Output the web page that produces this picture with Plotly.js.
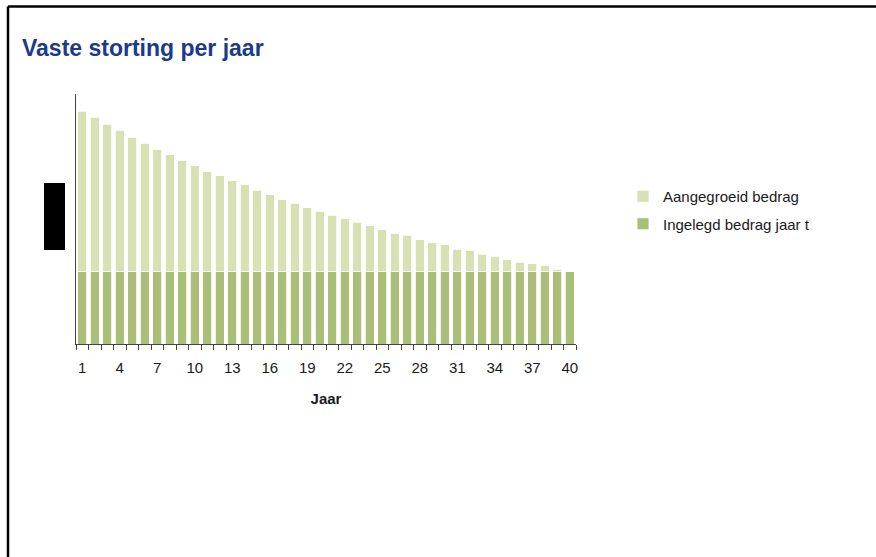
<!DOCTYPE html>
<html>
<head>
<meta charset="utf-8">
<script src="https://cdn.plot.ly/plotly-3.0.1.min.js"></script>
<style>
  body { margin: 0; background: #fff; }
  #chart { width: 876px; height: 557px; }
</style>
</head>
<body>
<div id="chart"></div>
<script>
// Years 1..40
const jaren = ["1","2","3","4","5","6","7","8","9","10","11","12","13","14","15","16","17","18","19","20",
               "21","22","23","24","25","26","27","28","29","30","31","32","33","34","35","36","37","38","39","40"];

// Deposit per year (constant), relative units
const ingelegd = [100,100,100,100,100,100,100,100,100,100,100,100,100,100,100,100,100,100,100,100,
                  100,100,100,100,100,100,100,100,100,100,100,100,100,100,100,100,100,100,100,100];

// Accrued growth on top of the deposit
const aangegroeid = [221,213,203,195,185,177,169,161,153,146,138,132,125,120,112,106,99,94,88,83,
                     78,73,68,63,58,53,50,44,40,37,31,29,24,21,16,13,11,8,3,0];

// Only every third year gets a label
const jaarLabels = jaren.map((j, i) => (i % 3 === 0 ? j : ""));

const font = "Liberation Sans, Arial, sans-serif";

const traceIngelegd = {
    x: jaren,
    y: ingelegd,
    type: "bar",
    name: "Ingelegd bedrag jaar t",
    legendgroup: "b",
    legendrank: 2,
    marker: {color: "#abbe78", line: {color: "#ffffff", width: 0.8}},
    hoverinfo: "skip"
};

const traceAangegroeid = {
    x: jaren,
    y: aangegroeid,
    type: "bar",
    name: "Aangegroeid bedrag",
    legendgroup: "a",
    legendrank: 1,
    marker: {color: "#d7e1b4", line: {color: "#ffffff", width: 0.8}},
    hoverinfo: "skip"
};

const layout = {
    width: 876,
    height: 557,
    margin: {l: 76, r: 300, t: 94, b: 213},
    paper_bgcolor: "#ffffff",
    plot_bgcolor: "#ffffff",
    barmode: "stack",
    bargap: 0.3,
    font: {family: font, size: 14, color: "#1a1a1a"},
    title: {
        text: "<b>Vaste storting per jaar</b>",
        font: {family: font, size: 23, color: "#1b3a8a"},
        x: 22 / 876, xref: "container", xanchor: "left",
        y: 1 - 48 / 557, yref: "container", yanchor: "middle"
    },
    xaxis: {
        type: "category",
        tickmode: "array",
        tickvals: jaren,
        ticktext: jaarLabels,
        tickangle: 0,
        tickson: "boundaries",
        ticks: "outside",
        ticklen: 5,
        tickcolor: "#444",
        ticklabelstandoff: 10,
        showline: true,
        linecolor: "#444",
        linewidth: 1,
        showgrid: false,
        zeroline: false,
        tickfont: {family: font, size: 15, color: "#1a1a1a"},
        title: {text: "<b>Jaar</b>", font: {family: font, size: 15, color: "#1a1a1a"}, standoff: 18}
    },
    yaxis: {
        range: [0, 345],
        showline: true,
        linecolor: "#444",
        linewidth: 1,
        showgrid: false,
        zeroline: false,
        showticklabels: false,
        ticks: ""
    },
    legend: {
        x: 1.094, y: 0.656,
        xanchor: "left", yanchor: "top",
        traceorder: "grouped",
        tracegroupgap: 5,
        font: {family: font, size: 15, color: "#1a1a1a"},
        bgcolor: "rgba(0,0,0,0)"
    },
    shapes: [
        // frame top and left
        {type: "line", xref: "paper", yref: "paper", x0: -0.136, x1: 1.62, y0: 1.35, y1: 1.35,
         line: {color: "#000", width: 2.5}},
        {type: "line", xref: "paper", yref: "paper", x0: -0.136, x1: -0.136, y0: 1.35, y1: -0.86,
         line: {color: "#000", width: 2.5}},
        // black box where the y title sits
        {type: "rect", xref: "paper", yref: "paper", x0: -0.064, x1: -0.022, y0: 0.376, y1: 0.644,
         fillcolor: "#000", line: {width: 0}}
    ]
};

Plotly.newPlot("chart", [traceIngelegd, traceAangegroeid], layout, {displayModeBar: false, staticPlot: true});
</script>
</body>
</html>
